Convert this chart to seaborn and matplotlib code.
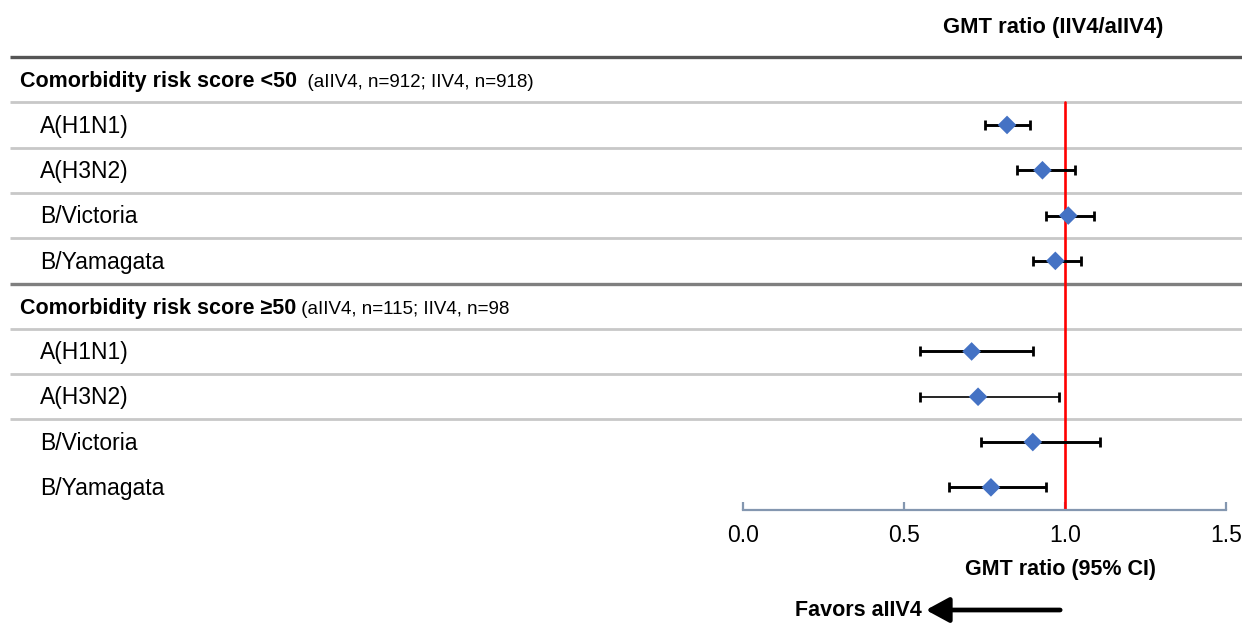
import numpy as np
import pandas as pd
import matplotlib
matplotlib.use("Agg")
import matplotlib.pyplot as plt
import matplotlib.transforms as mtransforms
import seaborn as sns

# ---------------- data ----------------
group_titles = ["Comorbidity risk score <50", "Comorbidity risk score \u226550"]
group_notes = ["(aIIV4, n=912; IIV4, n=918)", "(aIIV4, n=115; IIV4, n=98"]
strains = ["A(H1N1)", "A(H3N2)", "B/Victoria", "B/Yamagata"]
gmt_lt50 = [0.82, 0.93, 1.01, 0.97]
low_lt50 = [0.75, 0.85, 0.94, 0.90]
high_lt50 = [0.89, 1.03, 1.09, 1.05]
gmt_ge50 = [0.71, 0.73, 0.90, 0.77]
low_ge50 = [0.55, 0.55, 0.74, 0.64]
high_ge50 = [0.90, 0.98, 1.11, 0.94]
x_ticks = [0.0, 0.5, 1.0, 1.5]
x_tick_labels = ["0.0", "0.5", "1.0", "1.5"]
ref_value = 1.0
title_text = "GMT ratio (IIV4/aIIV4)"
xlabel_text = "GMT ratio (95% CI)"
favors_text = "Favors aIIV4"

# ---------------- table ----------------
rows = []
for g, (gm, lo, hi) in enumerate([(gmt_lt50, low_lt50, high_lt50),
                                  (gmt_ge50, low_ge50, high_ge50)]):
    for k, s in enumerate(strains):
        rows.append(dict(group=g, strain=s, row=5 * g + 1 + k,
                         gmt=gm[k], low=lo[k], high=hi[k]))
df = pd.DataFrame(rows)

# ---------------- style ----------------
sns.set_theme(style="white")
plt.rcParams["font.family"] = ["Liberation Sans", "DejaVu Sans"]
plt.rcParams["text.color"] = "black"
plt.rcParams["xtick.color"] = "black"

W, H = 1242, 623
fig = plt.figure(figsize=(W / 100, H / 100), dpi=100)
ax = fig.add_axes([743 / W, 1 - 510 / H, 483 / W, 453 / H])

FS = 15.5
FS_ROW = 16.5
FS_NOTE = 13.5
BL = 0.17  # baseline offset in row units

# ---------------- separators ----------------
tr_fx = mtransforms.blended_transform_factory(fig.transFigure, ax.transData)
x0 = 10 / W
ax.plot([x0, 1], [-0.5, -0.5], transform=tr_fx, color="#555555", lw=2.4,
        clip_on=False, solid_capstyle="butt")
for y in [0.5, 1.5, 2.5, 3.5, 5.5, 6.5, 7.5]:
    ax.plot([x0, 1], [y, y], transform=tr_fx, color="#c8c8c8", lw=2.0,
            clip_on=False, solid_capstyle="butt")
ax.plot([x0, 1], [4.5, 4.5], transform=tr_fx, color="#7f7f7f", lw=2.4,
        clip_on=False, solid_capstyle="butt")

# ---------------- reference line ----------------
ax.axvline(ref_value, ymin=0, ymax=0.9, color="#ff0000", lw=1.9, zorder=2)

# ---------------- CIs and points ----------------
for i, r in df.iterrows():
    lw = 1.2 if (r["group"] == 1 and r["strain"] == "A(H3N2)") else 2.1
    ax.errorbar(r["gmt"], r["row"],
                xerr=[[r["gmt"] - r["low"]], [r["high"] - r["gmt"]]],
                fmt="none", ecolor="black", elinewidth=lw, capsize=3.5,
                capthick=2.0, zorder=3)
sns.scatterplot(data=df, x="gmt", y="row", marker="D", s=90,
                color="#4472C4", edgecolor="none", linewidth=0, zorder=5,
                ax=ax, legend=False)

# ---------------- axes ----------------
ax.set_xlim(0, 1.5)
ax.set_ylim(9.5, -0.5)
ax.set_xticks(x_ticks)
ax.set_xticklabels(x_tick_labels)
ax.set_yticks([])
ax.set_xlabel("")
ax.set_ylabel("")
for sp in ["top", "left", "right"]:
    ax.spines[sp].set_visible(False)
ax.spines["bottom"].set_color("#8497b0")
ax.spines["bottom"].set_linewidth(1.6)
ax.tick_params(axis="x", direction="in", length=6, width=1.6,
               color="#8497b0", labelsize=FS_ROW, labelcolor="black", pad=10,
               bottom=True)
ax.set_facecolor("none")
ax.grid(False)

# ---------------- left text ----------------
for g in range(2):
    yrow = 5 * g
    t = ax.text(20 / W, yrow + BL, group_titles[g], transform=tr_fx,
                fontsize=FS, fontweight="bold", ha="left", va="baseline")
    sep = "  " if g == 0 else " "
    ax.annotate(sep + group_notes[g], xy=(1, yrow + BL),
                xycoords=(t, "data"), fontsize=FS_NOTE, ha="left",
                va="baseline", annotation_clip=False)
for i, r in df.iterrows():
    ax.text(40 / W, r["row"] + BL, r["strain"], transform=tr_fx,
            fontsize=FS_ROW, ha="left", va="baseline")

# ---------------- titles ----------------
tr_xdata_fig = mtransforms.blended_transform_factory(ax.transData, fig.transFigure)
ax.text(0.964, 1 - 28 / H, title_text, transform=tr_xdata_fig, fontsize=15.8,
        fontweight="bold", ha="center", va="center")
ax.text(0.985, 1 - 570 / H, xlabel_text, transform=tr_xdata_fig, fontsize=FS,
        fontweight="bold", ha="center", va="center")
ax.text(0.555, 1 - 611 / H, favors_text, transform=tr_xdata_fig, fontsize=FS,
        fontweight="bold", ha="right", va="center")
ax.annotate("", xy=(0.568, 1 - 610 / H), xytext=(0.985, 1 - 610 / H),
            xycoords=tr_xdata_fig, textcoords=tr_xdata_fig,
            arrowprops=dict(arrowstyle="-|>,head_length=0.7,head_width=0.38",
                            mutation_scale=20, lw=3.4, color="black",
                            shrinkA=0, shrinkB=0),
            annotation_clip=False)

fig.savefig("out.png", dpi=100, facecolor="white")
